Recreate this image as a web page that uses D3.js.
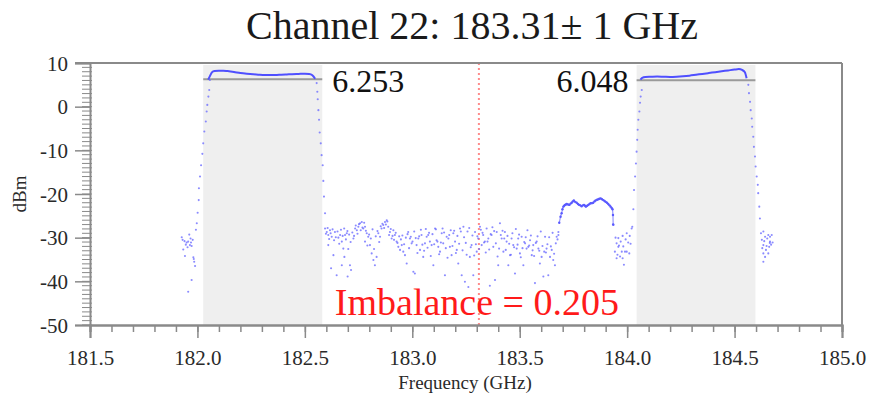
<!DOCTYPE html>
<html>
<head>
<meta charset="utf-8">
<script src="https://cdn.jsdelivr.net/npm/d3@7"></script>
<style>
  html, body { margin: 0; padding: 0; background: #fff; }
  svg { display: block; }
  svg text { font-family: "Liberation Serif", "DejaVu Serif", serif; }
</style>
</head>
<body>
<svg id="chart" width="869" height="393"></svg>
<script>
// Channel 22 sideband sweep: power (dBm) versus frequency (GHz)
const chartTitle = "Channel 22: 183.31\u00b1 1 GHz";
const xTicks = [181.5, 182.0, 182.5, 183.0, 183.5, 184.0, 184.5, 185.0];
const yTicks = [10, 0, -10, -20, -30, -40, -50];
const loFrequency = 183.31;
const passbands = [[182.027, 182.581], [184.044, 184.597]];
const bandLevels = [6.253, 6.048];

// flat tops of the two passbands [GHz, dBm]
const lowerBandTop = [
  [182.050, 6.2], [182.058, 7.0], [182.068, 7.9], [182.080, 8.15], [182.100, 8.25],
  [182.120, 8.25], [182.140, 8.15], [182.170, 7.95], [182.200, 7.7], [182.230, 7.55],
  [182.260, 7.45], [182.290, 7.3], [182.320, 7.25], [182.350, 7.25], [182.380, 7.3],
  [182.410, 7.35], [182.440, 7.45], [182.470, 7.5], [182.500, 7.55], [182.520, 7.5],
  [182.535, 7.2], [182.548, 6.4]
];
const upperBandTop = [
  [184.062, 6.2], [184.070, 6.6], [184.085, 6.8], [184.110, 6.85], [184.140, 6.9],
  [184.170, 6.85], [184.200, 6.8], [184.230, 6.85], [184.260, 6.95], [184.290, 7.1],
  [184.320, 7.3], [184.350, 7.5], [184.380, 7.7], [184.410, 7.9], [184.440, 8.1],
  [184.470, 8.3], [184.500, 8.5], [184.520, 8.6], [184.535, 8.4], [184.548, 7.9],
  [184.556, 6.5]
];

// skirts of the passbands
const lowerBandEdges = [
  [182.058, 6.1], [182.055, 3.8], [182.051, 2.3], [182.046, 0.4], [182.043, -1.1],
  [182.039, -3.4], [182.032, -5.7], [182.027, -8.4], [182.023, -10.8], [182.017, -13.4],
  [182.012, -16.0], [182.007, -18.7], [182.006, -21.4], [182.001, -24.3], [181.997, -26.7],
  [181.993, -28.2],
  [182.555, 5.4], [182.558, 3.4], [182.560, 1.7], [182.563, -0.8], [182.566, -3.0],
  [182.569, -5.9], [182.574, -8.4], [182.578, -11.1], [182.583, -13.4], [182.586, -17.0],
  [182.589, -20.6], [182.594, -24.4]
];
const upperBandEdges = [
  [184.024, -27.5], [184.029, -23.5], [184.032, -19.1], [184.037, -16.0], [184.041, -13.0],
  [184.044, -10.3], [184.047, -7.6], [184.049, -5.3], [184.052, -3.0], [184.057, -1.1],
  [184.060, 0.9], [184.063, 2.3], [184.068, 3.8],
  [184.564, 5.0], [184.567, 3.1], [184.572, 1.1], [184.575, -0.8], [184.580, -2.7],
  [184.582, -4.6], [184.587, -6.9], [184.590, -9.2], [184.595, -11.4], [184.598, -13.7],
  [184.603, -16.0], [184.608, -17.9], [184.610, -19.8], [184.615, -22.9], [184.618, -25.6]
];

// out-of-band floor below 182 GHz and above 184.6 GHz
const leftSkirt = [
  [181.927, -29.9], [181.931, -30.5], [181.934, -32.7], [181.940, -30.8], [181.942, -34.2],
  [181.946, -31.6], [181.950, -31.1], [181.954, -32.2], [181.957, -30.9], [181.957, -42.4],
  [181.962, -29.3], [181.965, -31.7], [181.968, -30.2], [181.970, -31.1], [181.973, -31.9],
  [181.973, -39.7], [181.978, -30.5], [181.981, -34.5], [181.983, -34.9], [181.985, -35.5],
  [181.989, -36.5]
];
const rightSkirt = [
  [184.623, -29.0], [184.627, -30.5], [184.629, -32.4], [184.634, -28.6], [184.634, -31.7],
  [184.634, -33.6], [184.634, -35.5], [184.638, -30.8], [184.642, -29.8], [184.642, -34.4],
  [184.646, -32.8], [184.649, -31.9], [184.652, -30.2], [184.657, -29.4], [184.657, -33.6],
  [184.661, -32.1], [184.664, -31.2], [184.665, -29.8], [184.665, -30.9], [184.670, -31.6],
  [184.673, -29.4], [184.677, -31.1]
];

// noise floor between the passbands
const noiseFloor = [
  [182.594, -27.9], [182.598, -29.1], [182.602, -28.7], [182.606, -27.8], [182.609, -29.4],
  [182.609, -31.7], [182.613, -30.3], [182.617, -28.3], [182.620, -29.0], [182.622, -37.0],
  [182.625, -29.8], [182.629, -28.1], [182.633, -34.0], [182.636, -30.6], [182.640, -28.7],
  [182.644, -29.9], [182.648, -38.6], [182.652, -28.6], [182.656, -30.0], [182.660, -31.4],
  [182.664, -29.4], [182.668, -28.2], [182.672, -30.9], [182.672, -36.3], [182.676, -29.6],
  [182.679, -32.5], [182.683, -27.9], [182.684, -34.4], [182.687, -29.4], [182.691, -30.4],
  [182.695, -29.0], [182.698, -28.5], [182.699, -38.9], [182.702, -32.6], [182.706, -29.3],
  [182.710, -36.3], [182.713, -31.0], [182.715, -37.4], [182.721, -28.8], [182.726, -30.2],
  [182.729, -29.6], [182.734, -27.9], [182.737, -27.2], [182.742, -28.3], [182.745, -29.1],
  [182.749, -27.5], [182.752, -26.9], [182.757, -26.7], [182.760, -28.3], [182.765, -26.4],
  [182.768, -27.7], [182.772, -27.9], [182.776, -26.6], [182.780, -27.5], [182.780, -30.9],
  [182.784, -28.4], [182.788, -29.0], [182.791, -31.8], [182.795, -29.8], [182.799, -29.3],
  [182.803, -31.7], [182.807, -30.2], [182.811, -33.6], [182.815, -28.1], [182.819, -35.1],
  [182.822, -32.6], [182.826, -36.3], [182.830, -29.7], [182.834, -34.4], [182.838, -28.5],
  [182.842, -29.0], [182.846, -31.0], [182.850, -29.8], [182.853, -27.4], [182.857, -27.9],
  [182.861, -26.8], [182.865, -27.1], [182.869, -27.8], [182.873, -26.4], [182.877, -27.0],
  [182.881, -26.0], [182.884, -26.3], [182.888, -27.5], [182.892, -29.4], [182.896, -28.7],
  [182.900, -28.0], [182.904, -30.2], [182.908, -29.6], [182.912, -28.3], [182.915, -30.5],
  [182.919, -29.4], [182.923, -28.9], [182.927, -30.9], [182.931, -31.2], [182.935, -32.1],
  [182.939, -29.7], [182.943, -32.8], [182.947, -30.4], [182.951, -31.7], [182.954, -29.5],
  [182.958, -33.2], [182.962, -31.5], [182.966, -34.0], [182.970, -30.0], [182.974, -35.9],
  [182.978, -29.2], [182.981, -28.7], [182.985, -32.4], [182.989, -30.2], [182.993, -29.8],
  [182.997, -31.3], [183.001, -30.9], [183.005, -37.8], [183.009, -28.6], [183.012, -38.2],
  [183.016, -30.1], [183.020, -31.7], [183.024, -33.5], [183.028, -30.2], [183.032, -29.7],
  [183.036, -32.8], [183.040, -28.2], [183.043, -29.4], [183.047, -31.6], [183.051, -34.4],
  [183.055, -33.0], [183.059, -31.3], [183.063, -28.0], [183.067, -29.8], [183.071, -32.3],
  [183.074, -29.4], [183.078, -28.9], [183.082, -30.9], [183.086, -34.2], [183.090, -31.7],
  [183.094, -29.2], [183.098, -36.3], [183.102, -31.5], [183.106, -27.9], [183.110, -28.1],
  [183.113, -30.6], [183.117, -30.9], [183.121, -32.1], [183.125, -33.8], [183.129, -33.2],
  [183.133, -31.1], [183.137, -29.0], [183.141, -27.9], [183.144, -31.3], [183.148, -28.8],
  [183.152, -38.6], [183.156, -32.4], [183.160, -29.8], [183.164, -34.6], [183.168, -30.2],
  [183.172, -29.4], [183.175, -32.1], [183.179, -28.3], [183.183, -34.0], [183.187, -31.9],
  [183.191, -29.0], [183.195, -28.4], [183.199, -30.9], [183.203, -33.5], [183.207, -32.8],
  [183.210, -29.6], [183.214, -35.9], [183.218, -31.4], [183.222, -27.9], [183.226, -28.6],
  [183.230, -38.6], [183.234, -32.9], [183.238, -27.5], [183.241, -29.9], [183.245, -40.1],
  [183.249, -31.2], [183.253, -33.9], [183.257, -28.6], [183.261, -41.3], [183.265, -27.8],
  [183.268, -34.4], [183.272, -32.2], [183.276, -31.7], [183.280, -29.5], [183.284, -38.6],
  [183.288, -34.1], [183.292, -28.7], [183.296, -31.5], [183.300, -33.2], [183.303, -29.7],
  [183.307, -30.2], [183.311, -32.6], [183.315, -27.5], [183.319, -28.2], [183.323, -31.7],
  [183.327, -28.9], [183.330, -29.4], [183.334, -31.1], [183.338, -30.9], [183.342, -33.4],
  [183.346, -27.9], [183.350, -30.9], [183.354, -30.2], [183.358, -32.7], [183.361, -41.0],
  [183.365, -29.2], [183.369, -29.4], [183.373, -27.6], [183.377, -32.1], [183.381, -28.5],
  [183.385, -39.7], [183.389, -31.3], [183.393, -28.7], [183.397, -34.3], [183.400, -36.3],
  [183.404, -32.5], [183.408, -26.7], [183.412, -29.4], [183.416, -30.2], [183.420, -28.4],
  [183.424, -33.2], [183.428, -30.2], [183.431, -28.7], [183.435, -32.8], [183.439, -30.9],
  [183.443, -29.6], [183.447, -36.3], [183.451, -31.4], [183.455, -34.0], [183.459, -33.9],
  [183.462, -30.2], [183.466, -29.0], [183.470, -31.7], [183.474, -32.2], [183.478, -38.2],
  [183.482, -28.0], [183.486, -32.5], [183.490, -31.6], [183.493, -30.2], [183.497, -29.3],
  [183.501, -33.6], [183.505, -34.5], [183.509, -29.8], [183.513, -32.4], [183.517, -36.3],
  [183.521, -31.0], [183.525, -31.3], [183.528, -29.9], [183.532, -32.5], [183.536, -28.3],
  [183.540, -32.1], [183.544, -31.8], [183.548, -30.6], [183.552, -29.5], [183.556, -34.0],
  [183.560, -32.9], [183.563, -31.7], [183.567, -34.2], [183.571, -40.4], [183.575, -31.2],
  [183.579, -30.9], [183.583, -29.7], [183.587, -32.5], [183.591, -33.0], [183.594, -35.9],
  [183.598, -28.6], [183.602, -34.4], [183.606, -31.9], [183.610, -38.9], [183.614, -33.2],
  [183.618, -29.8], [183.622, -33.4], [183.625, -32.5], [183.629, -31.5], [183.633, -38.6],
  [183.637, -29.9], [183.641, -34.4], [183.645, -32.0], [183.649, -32.8], [183.653, -28.9],
  [183.656, -35.1], [183.660, -33.7], [183.664, -36.3], [183.668, -31.3], [183.672, -29.8],
  [183.676, -30.4], [183.680, -28.7], [183.680, -29.4]
];

// spur plateau near 183.8 GHz
const spurPlateau = [
  [183.684, -26.6], [183.690, -25.2], [183.695, -24.4], [183.699, -23.5], [183.703, -22.9],
  [183.707, -22.7], [183.711, -22.5], [183.715, -22.4], [183.719, -22.3], [183.725, -22.4],
  [183.731, -22.5], [183.737, -22.2], [183.742, -22.0], [183.747, -21.7], [183.752, -21.5],
  [183.758, -21.8], [183.765, -22.0], [183.771, -22.3], [183.777, -22.5], [183.782, -22.6],
  [183.788, -22.8], [183.794, -22.6], [183.799, -22.5], [183.804, -22.7], [183.808, -22.9],
  [183.814, -22.7], [183.819, -22.5], [183.825, -22.3], [183.830, -22.1], [183.836, -22.1],
  [183.842, -22.0], [183.848, -21.7], [183.853, -21.5], [183.860, -21.3], [183.866, -21.2],
  [183.871, -21.1], [183.877, -21.0], [183.883, -21.2], [183.889, -21.4], [183.895, -21.6],
  [183.900, -21.8], [183.906, -22.0], [183.912, -22.3], [183.918, -22.6], [183.923, -22.9],
  [183.928, -23.2], [183.932, -23.5], [183.934, -24.8], [183.935, -27.0]
];
const betweenBands = [
  [183.936, -27.1], [183.943, -33.2], [183.946, -30.0], [183.951, -31.3], [183.951, -34.7],
  [183.955, -33.9], [183.959, -30.1], [183.959, -32.1], [183.962, -31.8], [183.967, -34.3],
  [183.970, -30.9], [183.975, -33.2], [183.979, -29.6], [183.979, -34.7], [183.982, -32.0],
  [183.985, -36.2], [183.990, -33.2], [183.993, -30.4], [183.998, -29.0], [183.998, -33.2],
  [184.005, -31.1], [184.010, -33.6], [184.012, -29.6], [184.016, -31.4], [184.021, -27.9]
];

const serif = "'Liberation Serif', 'DejaVu Serif', serif";
const svg = d3.select("#chart");
const plot = { left: 90, right: 842, top: 63, bottom: 325 };

const x = d3.scaleLinear().domain([181.5, 185.0]).range([plot.left, plot.right]);
const y = d3.scaleLinear().domain([-50, 10]).range([plot.bottom, plot.top]);

const axisColor = "#8a8a8a";
const dotColor = "#6e6eff";

// passband shading
svg.append("g").selectAll("rect").data(passbands).join("rect")
  .attr("x", d => x(d[0]))
  .attr("width", d => x(d[1]) - x(d[0]))
  .attr("y", plot.top + 2)
  .attr("height", plot.bottom - plot.top - 2)
  .attr("fill", "#efefef");

// mean passband level lines
svg.append("g").selectAll("line").data(passbands).join("line")
  .attr("x1", d => x(d[0])).attr("x2", d => x(d[1]))
  .attr("y1", (d, i) => y(bandLevels[i])).attr("y2", (d, i) => y(bandLevels[i]))
  .attr("stroke", "#9a9a9a").attr("stroke-width", 2);

// LO frequency marker
svg.append("line")
  .attr("x1", x(loFrequency)).attr("x2", x(loFrequency))
  .attr("y1", plot.top).attr("y2", plot.bottom)
  .attr("stroke", "#ff8a8a").attr("stroke-width", 2)
  .attr("stroke-dasharray", "2,3");

// sweep points
const dotGroups = [leftSkirt, lowerBandEdges, noiseFloor, betweenBands, upperBandEdges, rightSkirt];
dotGroups.forEach(pts => {
  svg.append("g").selectAll("circle").data(pts).join("circle")
    .attr("cx", d => x(d[0])).attr("cy", d => y(d[1]))
    .attr("r", 1.05).attr("fill", dotColor).attr("fill-opacity", 0.8);
});

// dense traces drawn as lines
const trace = d3.line().x(d => x(d[0])).y(d => y(d[1])).curve(d3.curveMonotoneX);
[lowerBandTop, upperBandTop].forEach(pts => {
  svg.append("path").datum(pts).attr("d", trace)
    .attr("fill", "none").attr("stroke", "#4f4fff").attr("stroke-width", 2);
});
svg.append("path").datum(spurPlateau)
  .attr("d", d3.line().x(d => x(d[0])).y(d => y(d[1])))
  .attr("fill", "none").attr("stroke", "#6a6aff").attr("stroke-width", 1.2).attr("stroke-opacity", 0.7);
svg.append("g").selectAll("circle").data(spurPlateau).join("circle")
  .attr("cx", d => x(d[0])).attr("cy", d => y(d[1]))
  .attr("r", 1.2).attr("fill", "#5a5aff");

// frame: top and right borders
svg.append("line").attr("x1", plot.left - 15).attr("x2", plot.right)
  .attr("y1", plot.top).attr("y2", plot.top)
  .attr("stroke", axisColor).attr("stroke-width", 2);
svg.append("line").attr("x1", plot.right).attr("x2", plot.right)
  .attr("y1", plot.top).attr("y2", plot.bottom)
  .attr("stroke", axisColor).attr("stroke-width", 2);

// x axis
const xMinor = d3.range(0, 36).map(i => 181.5 + i * 0.1);
const gxMinor = svg.append("g").attr("transform", `translate(0,${plot.bottom})`)
  .call(d3.axisBottom(x).tickValues(xMinor).tickSize(7).tickFormat(""));
const gx = svg.append("g").attr("transform", `translate(0,${plot.bottom})`)
  .call(d3.axisBottom(x).tickValues(xTicks).tickSize(13).tickFormat(d3.format(".1f")));
[gxMinor, gx].forEach(g => {
  g.attr("font-family", serif);
  g.select(".domain").attr("stroke", axisColor).attr("stroke-width", 2);
  g.selectAll(".tick line").attr("stroke", axisColor).attr("stroke-width", 1.5);
});
gx.selectAll(".tick text")
  .attr("y", 40).attr("dy", 0)
  .attr("fill", "#2a2a2a")
  .style("font-family", serif)
  .style("font-size", "21px");

// y axis
const yMinor = d3.range(-50, 11, 1);
svg.append("g").selectAll("line").data(yMinor).join("line")
  .attr("x1", plot.left - 8).attr("x2", plot.left + 2)
  .attr("y1", d => y(d)).attr("y2", d => y(d))
  .attr("stroke", axisColor).attr("stroke-width", 1);
const gy = svg.append("g").attr("transform", `translate(${plot.left},0)`)
  .call(d3.axisLeft(y).tickValues(yTicks).tickSize(15).tickPadding(7).tickFormat(d => String(d)));
gy.attr("font-family", serif);
gy.select(".domain").attr("stroke", axisColor).attr("stroke-width", 2);
gy.selectAll(".tick line").attr("stroke", axisColor).attr("stroke-width", 1.5);
gy.selectAll(".tick text")
  .attr("fill", "#2a2a2a")
  .attr("dy", "0.34em")
  .style("font-family", serif)
  .style("font-size", "21px");

// axis titles
svg.append("text")
  .attr("transform", `translate(26,${(plot.top + plot.bottom) / 2}) rotate(-90)`)
  .attr("text-anchor", "middle")
  .style("font-family", serif).attr("font-size", 19).attr("fill", "#2a2a2a")
  .text("dBm");
svg.append("text")
  .attr("x", 465).attr("y", 389)
  .attr("text-anchor", "middle")
  .style("font-family", serif).attr("font-size", 19).attr("fill", "#2a2a2a")
  .text("Frequency (GHz)");

// title
svg.append("text")
  .attr("x", 472).attr("y", 39)
  .attr("text-anchor", "middle")
  .style("font-family", serif).attr("font-size", 40).attr("fill", "#1a1a1a")
  .text(chartTitle);

// band level labels
const fmt3 = d3.format(".3f");
svg.append("text")
  .attr("x", x(passbands[0][1]) + 10).attr("y", y(bandLevels[0]) + 13)
  .style("font-family", serif).attr("font-size", 32).attr("fill", "#111")
  .text(fmt3(bandLevels[0]));
svg.append("text")
  .attr("x", x(passbands[1][0]) - 8).attr("y", y(bandLevels[0]) + 13)
  .attr("text-anchor", "end")
  .style("font-family", serif).attr("font-size", 32).attr("fill", "#111")
  .text(fmt3(bandLevels[1]));

// imbalance between the two sidebands
svg.append("text")
  .attr("x", x(loFrequency) - 2).attr("y", 315)
  .attr("text-anchor", "middle")
  .style("font-family", serif).attr("font-size", 38).attr("fill", "#ff1a1a")
  .text("Imbalance = " + fmt3(bandLevels[0] - bandLevels[1]));
</script>
</body>
</html>
